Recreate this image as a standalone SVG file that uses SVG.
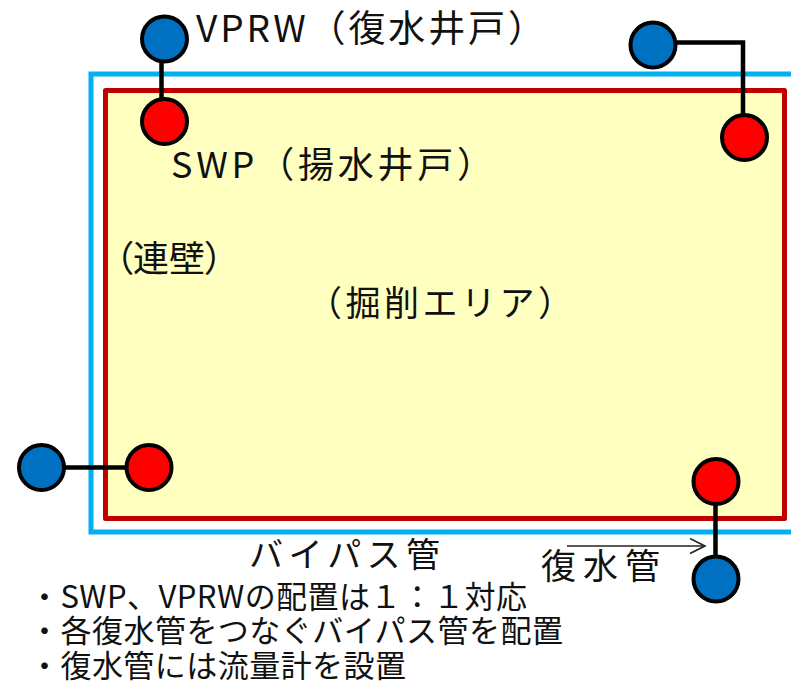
<svg xmlns="http://www.w3.org/2000/svg" width="791" height="685" viewBox="0 0 791 685">
<style>
  text { font-family: "Noto Sans CJK JP", "Noto Sans", sans-serif; fill: #111; }
  .swp { fill: #FF0000; stroke: #000; stroke-width: 4; }
  .vprw { fill: #0070C0; stroke: #000; stroke-width: 4; }
  .pipe { fill: none; stroke: #000; stroke-width: 4.5; stroke-linejoin: miter; }
  .arrow { fill: none; stroke: #222; stroke-width: 1.6; }
</style>
<defs>
  <marker id="open" markerUnits="userSpaceOnUse" markerWidth="20" markerHeight="20" refX="16" refY="8" orient="auto">
    <polyline points="1,0.5 16,8 1,15.5" fill="none" stroke="#222" stroke-width="1.6"/>
  </marker>
</defs>
<rect width="791" height="685" fill="#fff"/>
<g id="wall">
  <rect x="91" y="74" width="760" height="458" fill="none" stroke="#00B0F0" stroke-width="5"/>
</g>
<g id="excavation">
  <rect x="105.5" y="90.5" width="679" height="428" fill="#FFFFC0" stroke="#C00000" stroke-width="5" stroke-linejoin="round"/>
</g>
<g id="labels">
  <text x="196" y="42" font-size="37" textLength="349" lengthAdjust="spacing">VPRW（復水井戸）</text>
  <text x="171" y="178" font-size="36" textLength="322" lengthAdjust="spacing">SWP（揚水井戸）</text>
  <text x="115" y="272" font-size="36" style="font-feature-settings:'palt'">（連壁）</text>
  <text x="307" y="316" font-size="35" textLength="266" lengthAdjust="spacing">（掘削エリア）</text>
  <text x="249" y="567" font-size="34" textLength="191" lengthAdjust="spacing">バイパス管</text>
  <text x="541" y="579" font-size="35" textLength="119" lengthAdjust="spacing">復水管</text>
  <text x="29" y="608" font-size="31" textLength="498" lengthAdjust="spacing">・SWP、VPRWの配置は１：１対応</text>
  <text x="29" y="642" font-size="31" textLength="534" lengthAdjust="spacing">・各復水管をつなぐバイパス管を配置</text>
  <text x="29" y="677" font-size="31" textLength="377" lengthAdjust="spacing">・復水管には流量計を設置</text>
</g>
<g id="connectors">
  <line class="pipe" x1="161.5" y1="58" x2="161.5" y2="100"/>
  <polyline class="pipe" points="675,42.5 743,42.5 743,116"/>
  <line class="pipe" x1="63" y1="467.5" x2="128" y2="467.5"/>
  <line class="pipe" x1="715.5" y1="503" x2="715.5" y2="558"/>
  <line class="arrow" x1="567" y1="546" x2="705" y2="546" marker-end="url(#open)"/>
</g>
<g id="vprw-1"><circle class="vprw" cx="164.5" cy="39" r="22.5"/></g>
<g id="swp-1"><circle class="swp" cx="164.5" cy="121.5" r="22.5"/></g>
<g id="vprw-2"><circle class="vprw" cx="653" cy="45" r="22.5"/></g>
<g id="swp-2"><circle class="swp" cx="744.5" cy="137.5" r="22.5"/></g>
<g id="vprw-3"><circle class="vprw" cx="41.5" cy="467.5" r="22.5"/></g>
<g id="swp-3"><circle class="swp" cx="149" cy="467.5" r="22.5"/></g>
<g id="swp-4"><circle class="swp" cx="716" cy="481.5" r="22.5"/></g>
<g id="vprw-4"><circle class="vprw" cx="716" cy="579" r="22.5"/></g>
</svg>
